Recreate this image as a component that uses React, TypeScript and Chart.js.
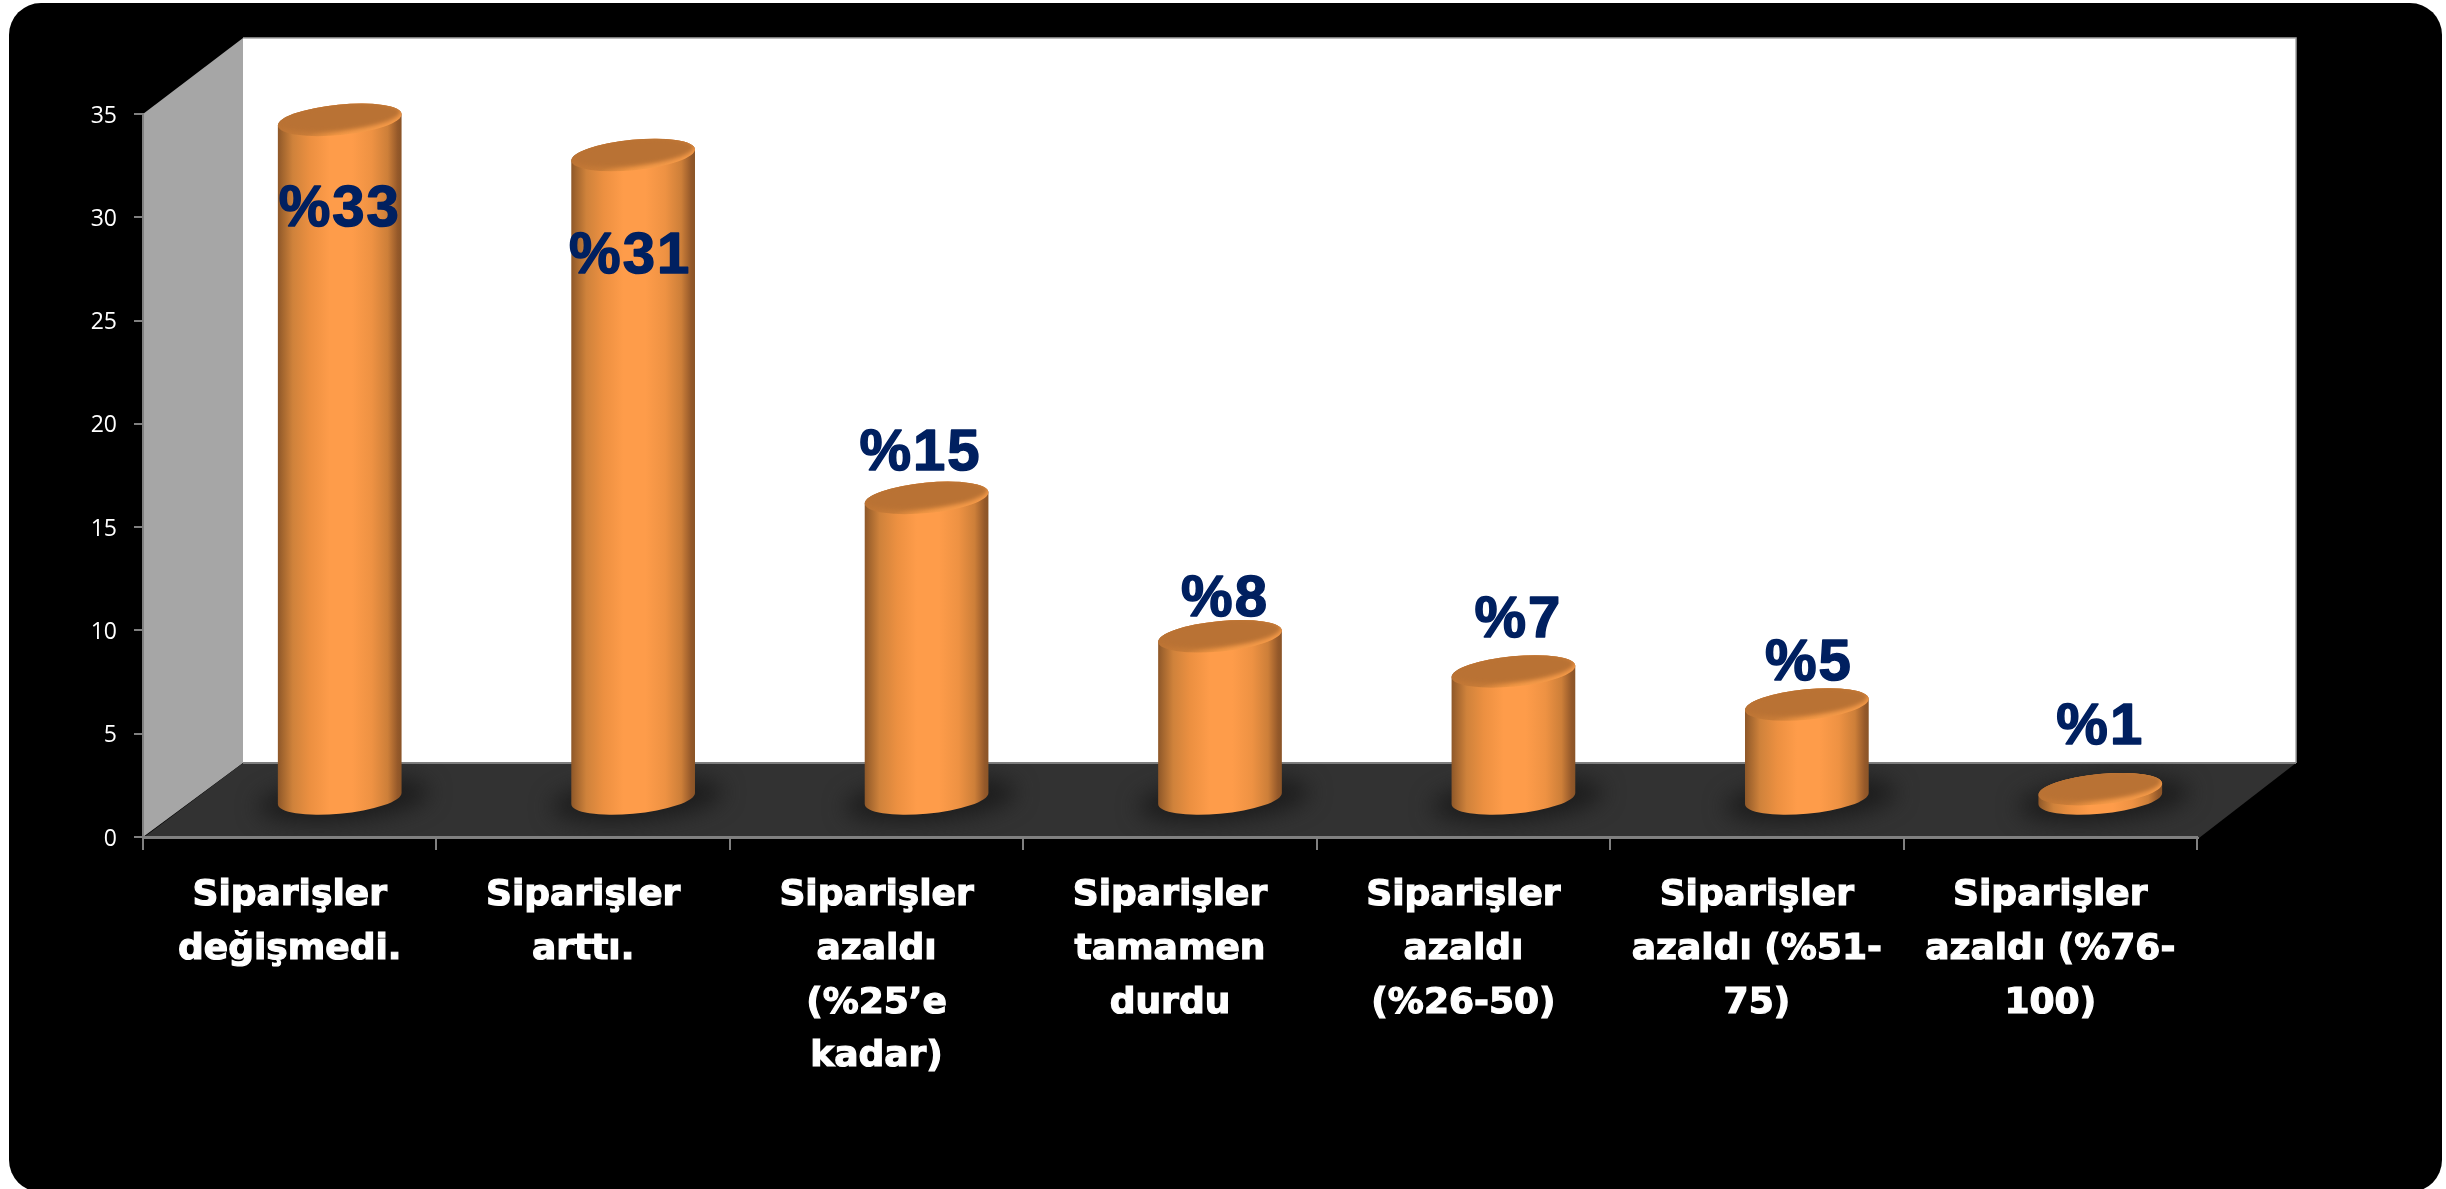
import React, { useEffect, useRef } from "react";
import { Chart, registerables, BarController, BarElement } from "chart.js";

const categories: string[][] = [
  ["Siparişler", "değişmedi."],
  ["Siparişler", "arttı."],
  ["Siparişler", "azaldı", "(%25’e", "kadar)"],
  ["Siparişler", "tamamen", "durdu"],
  ["Siparişler", "azaldı", "(%26-50)"],
  ["Siparişler", "azaldı (%51-", "75)"],
  ["Siparişler", "azaldı (%76-", "100)"],
];
const orderShares = [32.9, 31.2, 14.6, 7.9, 6.2, 4.6, 0.5];
const shareLabels = ["%33", "%31", "%15", "%8", "%7", "%5", "%1"];
// where each hand-placed label sits, on the value axis, and its nudge sideways
const labelAnchors = [30.5, 28.2, 18.7, 11.6, 10.6, 8.5, 5.4];
const labelNudge = [-1, -4, -7, 4, 4, 1, -1];

const W = 2446;
const H = 1189;
const WALL_DX = 100;
const WALL_DY = 75;
const BAR_DX = 50;
const BAR_DY = 37.5;
const TILT = (-5.5 * Math.PI) / 180;
const RY_RATIO = 15.2 / 62;

class CylinderElement extends BarElement {
  static id = "cylinderBar";
  static defaults = { ...BarElement.defaults };
  draw(ctx: CanvasRenderingContext2D) {
    const { x, y, base, width } = (this as any).getProps(["x", "y", "base", "width"]);
    const cx = x + BAR_DX;
    const topY = y - BAR_DY;
    const baseY = base - BAR_DY;
    const rx = width / 2 + 0.5;
    const ry = rx * RY_RATIO;
    const t0 = Math.atan2(-ry * Math.sin(TILT), rx * Math.cos(TILT));
    const left = cx - width / 2;
    const grad = ctx.createLinearGradient(left, 0, left + width, 0);
    [
      [0, "#8f5829"],
      [0.04, "#a5672f"],
      [0.12, "#cf823b"],
      [0.26, "#ec9041"],
      [0.42, "#fe9c4a"],
      [0.6, "#fe9c4a"],
      [0.76, "#ee9243"],
      [0.89, "#cd7f39"],
      [0.97, "#95592a"],
      [1, "#8a5427"],
    ].forEach(([o, c]) => grad.addColorStop(o as number, c as string));
    ctx.save();
    ctx.beginPath();
    ctx.ellipse(cx, baseY, rx, ry, TILT, t0, t0 + Math.PI, false);
    ctx.ellipse(cx, topY, rx, ry, TILT, t0 + Math.PI, t0 + 2 * Math.PI, false);
    ctx.closePath();
    ctx.fillStyle = grad;
    ctx.fill();

    // top face: a lit rim round a darker, soft-edged disc
    const rim = ctx.createLinearGradient(cx - 6, topY - ry, cx + 6, topY + ry);
    rim.addColorStop(0, "#bb7334");
    rim.addColorStop(0.55, "#c87c38");
    rim.addColorStop(0.88, "#ef9543");
    rim.addColorStop(1, "#f59a48");
    ctx.beginPath();
    ctx.ellipse(cx, topY, rx, ry, TILT, 0, Math.PI * 2);
    ctx.fillStyle = rim;
    ctx.fill();
    ctx.save();
    ctx.beginPath();
    ctx.ellipse(cx, topY, rx, ry, TILT, 0, Math.PI * 2);
    ctx.clip();
    ctx.filter = "blur(2px)";
    ctx.beginPath();
    ctx.ellipse(cx + 1, topY - 2.5, rx - 2, ry - 2, TILT, 0, Math.PI * 2);
    ctx.fillStyle = "#b97234";
    ctx.fill();
    ctx.restore();
    ctx.restore();
  }
}

class CylinderController extends BarController {
  static id = "cylinder";
  static defaults = { ...BarController.defaults, dataElementType: "cylinderBar" };
  static overrides = BarController.overrides;
}

Chart.register(...registerables, CylinderElement, CylinderController);

const roomPlugin = {
  id: "room",
  beforeDraw(chart: any) {
    const { ctx, chartArea: a } = chart;
    const L = a.left;
    const R = a.right;
    const T = a.top;
    const B = a.bottom;
    ctx.save();
    ctx.fillStyle = "#ffffff";
    ctx.fillRect(0, 0, W, H);
    ctx.beginPath();
    ctx.roundRect(9, 3, 2433, 1189, 32);
    ctx.fillStyle = "#000000";
    ctx.fill();

    // back wall
    const backB = B - WALL_DY + 1;
    const wallTop = T - WALL_DY - 1;
    const wallR = R + WALL_DX - 1;
    ctx.fillStyle = "#ffffff";
    ctx.fillRect(L + WALL_DX, wallTop, wallR - L - WALL_DX, backB - wallTop);
    ctx.strokeStyle = "#a6a6a6";
    ctx.lineWidth = 1.5;
    ctx.beginPath();
    ctx.moveTo(L + WALL_DX, wallTop);
    ctx.lineTo(wallR, wallTop);
    ctx.lineTo(wallR, backB);
    ctx.stroke();

    // side wall
    ctx.fillStyle = "#a6a6a6";
    ctx.beginPath();
    ctx.moveTo(L, T);
    ctx.lineTo(L + WALL_DX, wallTop);
    ctx.lineTo(L + WALL_DX, backB);
    ctx.lineTo(L, B);
    ctx.closePath();
    ctx.fill();

    // floor
    const floor = () => {
      ctx.beginPath();
      ctx.moveTo(L, B + 1);
      ctx.lineTo(L + WALL_DX, backB);
      ctx.lineTo(wallR, backB);
      ctx.lineTo(R + 2, B + 1);
      ctx.closePath();
    };
    floor();
    ctx.fillStyle = "#323232";
    ctx.fill();
    ctx.strokeStyle = "#7f7f7f";
    ctx.lineWidth = 2;
    ctx.beginPath();
    ctx.moveTo(L + WALL_DX, backB);
    ctx.lineTo(wallR, backB);
    ctx.moveTo(L, B + 1);
    ctx.lineTo(R + 2, B + 1);
    ctx.stroke();

    // soft shadows of the cylinders on the floor
    ctx.save();
    floor();
    ctx.clip();
    ctx.filter = "blur(11px)";
    ctx.fillStyle = "#1c1c1c";
    chart.getDatasetMeta(0).data.forEach((el: any) => {
      ctx.beginPath();
      ctx.ellipse(el.x + BAR_DX + 4, el.base - BAR_DY + 1, 86, 21, TILT, 0, Math.PI * 2);
      ctx.fill();
    });
    ctx.restore();
    ctx.restore();
  },
  afterDatasetsDraw(chart: any) {
    const { ctx } = chart;
    const yScale = chart.scales.y;
    ctx.save();
    ctx.font = 'bold 58px "Liberation Sans", Arial, sans-serif';
    (ctx as any).letterSpacing = "2px";
    ctx.fillStyle = "#002060";
    ctx.strokeStyle = "#002060";
    ctx.lineWidth = 1.5;
    ctx.lineJoin = "round";
    ctx.textAlign = "center";
    ctx.textBaseline = "middle";
    chart.getDatasetMeta(0).data.forEach((el: any, i: number) => {
      const tx = el.x + BAR_DX + labelNudge[i] + 1;
      const ty = yScale.getPixelForValue(labelAnchors[i]) + 3;
      ctx.strokeText(shareLabels[i], tx, ty);
      ctx.fillText(shareLabels[i], tx, ty);
    });
    ctx.restore();
  },
};

export default function App() {
  const ref = useRef<HTMLCanvasElement>(null);
  useEffect(() => {
    const chart = new Chart(ref.current as HTMLCanvasElement, {
      type: "cylinder" as any,
      data: {
        labels: categories as any,
        datasets: [
          {
            label: "Siparişler",
            data: orderShares,
            backgroundColor: "#f79646",
            barPercentage: 0.42,
            categoryPercentage: 1,
            clip: false,
          } as any,
        ],
      },
      options: {
        responsive: false,
        animation: false,
        layout: { padding: { top: 114, right: 249, left: 0, bottom: 0 } },
        plugins: { legend: { display: false }, tooltip: { enabled: false }, title: { display: false } },
        scales: {
          x: {
            type: "category",
            offset: true,
            afterFit: (s: any) => {
              s.height = 352;
            },
            border: { display: true, color: "#808080", width: 2 },
            grid: { offset: true, drawOnChartArea: false, drawTicks: true, color: "#808080", lineWidth: 2, tickLength: 13 },
            ticks: {
              autoSkip: false,
              maxRotation: 0,
              minRotation: 0,
              color: "#ffffff",
              textStrokeColor: "#ffffff",
              textStrokeWidth: 1.2,
              padding: 19,
              font: { family: '"DejaVu Sans", sans-serif', weight: "bold", size: 36, lineHeight: 53.7 / 36 },
            },
          },
          y: {
            type: "linear",
            min: 0,
            max: 35,
            afterFit: (s: any) => {
              s.width = 143;
            },
            border: { display: true, color: "#808080", width: 2 },
            grid: { drawOnChartArea: false, drawTicks: true, color: "#808080", lineWidth: 2, tickLength: 9 },
            ticks: {
              stepSize: 5,
              color: "#ffffff",
              padding: 17,
              labelOffset: 2,
              font: { family: '"Open Sans", sans-serif', size: 23 },
            },
          },
        },
      } as any,
      plugins: [roomPlugin],
    });
    return () => chart.destroy();
  }, []);
  return (
    <div style={{ position: "fixed", left: 0, top: 0, width: W, height: H, overflow: "hidden" }}>
      <canvas ref={ref} width={W} height={H} style={{ display: "block" }} />
    </div>
  );
}
